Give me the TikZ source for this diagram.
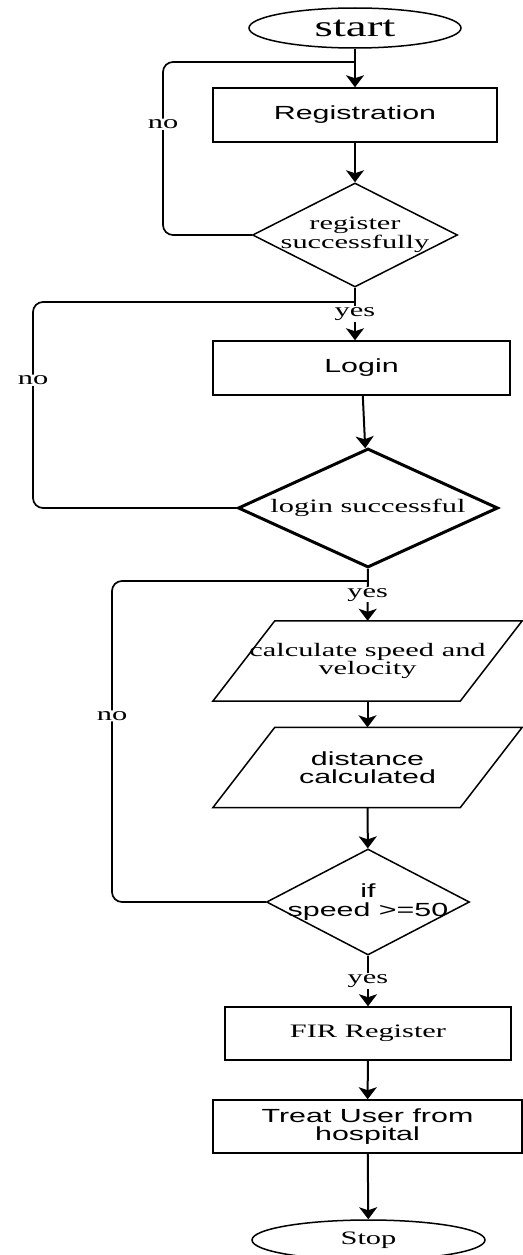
\documentclass[tikz,border=0pt]{standalone}
\usepackage{fontspec}
\setmainfont{Liberation Serif}[FakeStretch=1.6]
\newfontfamily\arialfont{Liberation Sans}[FakeStretch=1.6]
\usepackage{tikz}
\usetikzlibrary{arrows.meta,positioning,shapes.geometric}

\begin{document}
\begin{tikzpicture}[
    x=1pt, y=-1pt,
    every node/.style={font=\fontsize{19}{18.5}\selectfont, align=center},
    sans/.style={font=\arialfont\fontsize{19}{18.5}\selectfont},
    terminal/.style={ellipse, draw=black, line width=1.5pt, inner sep=0pt},
    process/.style={rectangle, draw=black, line width=1.5pt, inner sep=0pt},
    decision/.style={diamond, draw=black, line width=1.5pt, inner sep=0pt},
    io/.style={rectangle, inner sep=0pt, minimum width=247pt, minimum height=80pt},
    ioline/.style={draw=black, line width=1.5pt},
    msg/.style={-{Stealth[length=12pt,width=18pt,inset=3pt]}, draw=black, line width=2pt},
    back/.style={draw=black, line width=1.7pt, rounded corners=10pt},
    tag/.style={fill=white, inner sep=1pt}
    ]
    \useasboundingbox (0,0) rectangle (522,1255);

    \node[terminal, minimum width=212pt, minimum height=40pt, font=\fontsize{29.4}{30}\selectfont] (start) at (355,28) {start};
    \node[process, sans, minimum width=284pt, minimum height=54pt] (reg) at (355,115) {Registration};
    \node[decision, minimum width=205pt, minimum height=104pt, label={center:register\\successfully}] (regok) at (355,235) {};
    \node[process, sans, minimum width=297pt, minimum height=54pt] (login) at (361.5,368) {Login};
    \node[decision, line width=3pt, minimum width=260pt, minimum height=119pt, label={center:login successful}] (loginok) at (368,508) {};
    \node[io] (speed) at (367.5,661) {calculate speed and\\velocity};
    \node[io, sans] (dist) at (367.5,767.5) {distance\\calculated};
    \node[decision, minimum width=203pt, minimum height=106pt, label={[sans]center:if\\speed >=50}] (limit) at (368,902) {};
    \node[process, minimum width=286pt, minimum height=53pt] (fir) at (368,1033.5) {FIR Register};
    \node[process, sans, minimum width=309pt, minimum height=53pt] (treat) at (367.5,1126.5) {Treat User from\\hospital};
    \node[terminal, minimum width=233pt, minimum height=40pt] (stop) at (368.5,1240) {Stop};

    \foreach \n in {speed,dist}
        \draw[ioline] ([xshift=-31pt]\n.south west) -- ([xshift=-31pt]\n.south east)
            -- ([xshift=31pt]\n.north east) -- ([xshift=31pt]\n.north west) -- cycle;

    \coordinate (j1) at (355,62);
    \coordinate (j2) at (355,302);
    \coordinate (j3) at (368,581);

    \draw[msg] (start) -- (reg);
    \draw[msg] (reg) -- (regok);
    \draw[msg] (regok.south) -- (regok.south |- login.north) node[tag, midway] {yes};
    \draw[msg] (login) -- (loginok);
    \draw[msg] (loginok) -- (speed) node[tag, midway] {yes};
    \draw[msg] (speed) -- (dist);
    \draw[msg] (dist) -- (limit);
    \draw[msg] (limit) -- (fir) node[tag, midway] {yes};
    \draw[msg] (fir) -- (treat);
    \draw[msg] (treat) -- (stop);

    \draw[back] (regok.west) -| (163,62) node[tag, pos=0.82] {no} -- (j1);
    \draw[back] (loginok.west) -| (33,302) node[tag, pos=0.81] {no} -- (j2);
    \draw[back] (limit.west) -| (112,581) node[tag, pos=0.79] {no} -- (j3);
\end{tikzpicture}
\end{document}
